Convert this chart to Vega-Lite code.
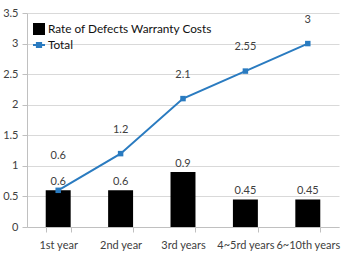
{
  "$schema": "https://vega.github.io/schema/vega-lite/v6.json",
  "width": 312,
  "height": 214,
  "autosize": "none",
  "padding": {"left": 27, "top": 13, "right": 2, "bottom": 31},
  "background": "white",
  "config": {
    "view": {"stroke": null},
    "font": "Lato",
    "axis": {
      "labelFont": "Lato",
      "labelFontSize": 11,
      "labelColor": "#404040",
      "domainColor": "#c0c0c0",
      "tickColor": "#c0c0c0",
      "gridColor": "#d9d9d9",
      "title": null
    },
    "legend": {
      "labelFont": "Lato",
      "labelFontSize": 11.8,
      "labelColor": "#111111",
      "labelLimit": 400,
      "title": null,
      "padding": 0
    }
  },
  "data": {
    "values": [
      {"period": "1st year", "rate": 0.6, "total": 0.6},
      {"period": "2nd year", "rate": 0.6, "total": 1.2},
      {"period": "3rd years", "rate": 0.9, "total": 2.1},
      {"period": "4~5rd years", "rate": 0.45, "total": 2.55},
      {"period": "6~10th years", "rate": 0.45, "total": 3}
    ]
  },
  "encoding": {
    "x": {
      "field": "period",
      "type": "nominal",
      "sort": null,
      "scale": {"paddingInner": 0.6, "paddingOuter": 0.3},
      "axis": {
        "labelAngle": 0,
        "labelPadding": 7,
        "tickBand": "extent",
        "tickSize": 5,
        "grid": false
      }
    }
  },
  "layer": [
    {
      "mark": {"type": "bar"},
      "encoding": {
        "y": {
          "field": "rate",
          "type": "quantitative",
          "scale": {"domain": [0, 3.5]},
          "axis": {"values": [0, 0.5, 1, 1.5, 2, 2.5, 3, 3.5], "format": "~g", "tickSize": 5, "labelPadding": 4, "labelOverlap": false, "grid": true}
        },
        "fill": {
          "datum": "Rate of Defects Warranty Costs",
          "scale": {"range": ["#000000"]},
          "legend": {
            "orient": "none",
            "legendX": 5,
            "legendY": 9,
            "symbolType": "square",
            "symbolSize": 144,
            "labelOffset": 2
          }
        }
      }
    },
    {
      "mark": {"type": "text", "baseline": "bottom", "dy": -3, "fontSize": 11, "color": "#404040"},
      "encoding": {
        "y": {
          "field": "rate",
          "type": "quantitative",
          "axis": {"values": [0, 0.5, 1, 1.5, 2, 2.5, 3, 3.5], "format": "~g", "tickSize": 5, "labelPadding": 4, "labelOverlap": false, "grid": true}
        },
        "text": {"field": "rate", "type": "quantitative"}
      }
    },
    {
      "mark": {"type": "line", "strokeWidth": 2},
      "encoding": {
        "y": {
          "field": "total",
          "type": "quantitative",
          "axis": {"values": [0, 0.5, 1, 1.5, 2, 2.5, 3, 3.5], "format": "~g", "tickSize": 5, "labelPadding": 4, "labelOverlap": false, "grid": true}
        },
        "stroke": {
          "datum": "Total",
          "scale": {"range": ["#2A7BC0"]},
          "legend": {
            "orient": "none",
            "legendX": 5,
            "legendY": 25,
            "symbolType": "M-1,0H1M-0.35,-0.35H0.35V0.35H-0.35Z",
            "symbolSize": 144,
            "symbolStrokeWidth": 2,
            "symbolFillColor": "#2A7BC0",
            "labelOffset": 2
          }
        }
      }
    },
    {
      "mark": {"type": "square", "size": 30, "filled": true, "color": "#2A7BC0", "opacity": 1},
      "encoding": {
        "y": {
          "field": "total",
          "type": "quantitative",
          "axis": {"values": [0, 0.5, 1, 1.5, 2, 2.5, 3, 3.5], "format": "~g", "tickSize": 5, "labelPadding": 4, "labelOverlap": false, "grid": true}
        }
      }
    },
    {
      "transform": [{"filter": "datum.period !== '1st year'"}],
      "mark": {"type": "text", "baseline": "middle", "dy": -24, "fontSize": 11, "color": "#404040"},
      "encoding": {
        "y": {
          "field": "total",
          "type": "quantitative",
          "axis": {"values": [0, 0.5, 1, 1.5, 2, 2.5, 3, 3.5], "format": "~g", "tickSize": 5, "labelPadding": 4, "labelOverlap": false, "grid": true}
        },
        "text": {"field": "total", "type": "quantitative"}
      }
    },
    {
      "transform": [{"filter": "datum.period === '1st year'"}],
      "mark": {"type": "text", "baseline": "middle", "dy": -34, "fontSize": 11, "color": "#404040"},
      "encoding": {
        "y": {
          "field": "total",
          "type": "quantitative",
          "axis": {"values": [0, 0.5, 1, 1.5, 2, 2.5, 3, 3.5], "format": "~g", "tickSize": 5, "labelPadding": 4, "labelOverlap": false, "grid": true}
        },
        "text": {"field": "total", "type": "quantitative"}
      }
    }
  ]
}
